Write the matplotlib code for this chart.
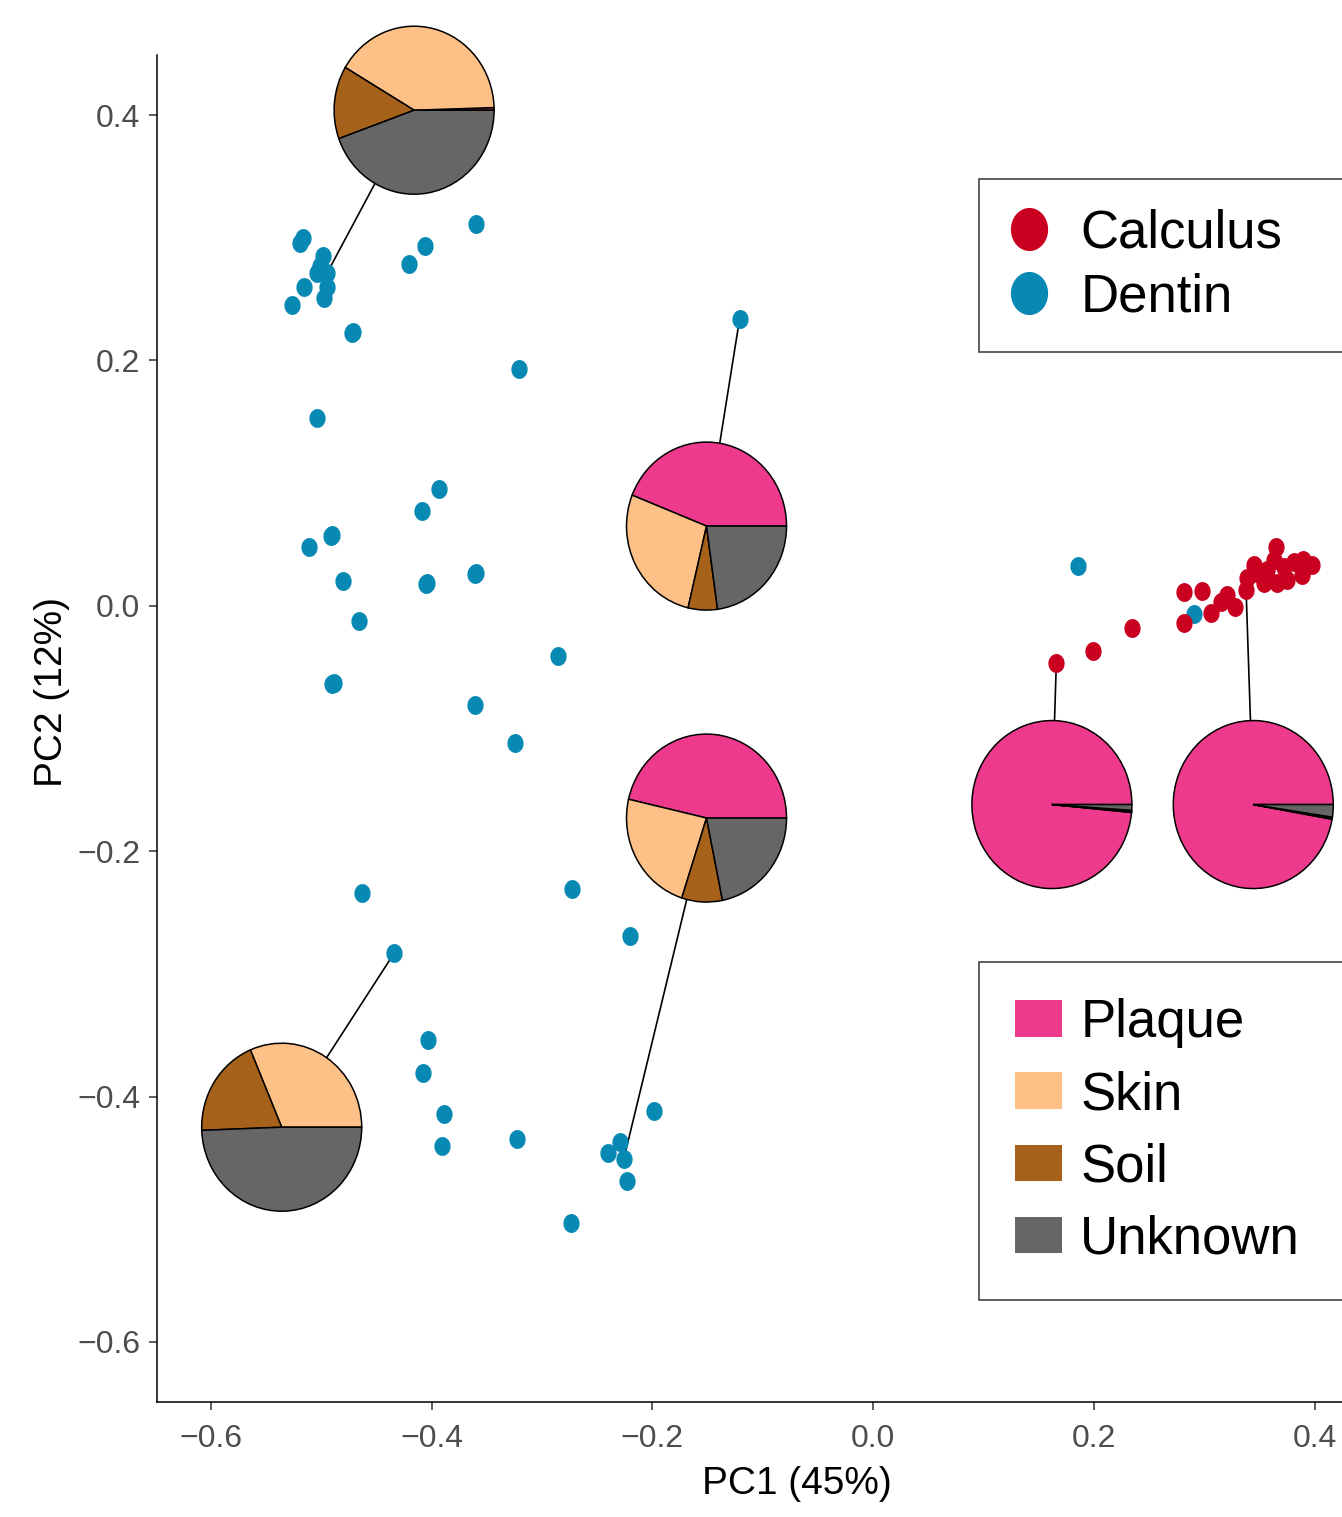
import numpy as np
import matplotlib
matplotlib.use("Agg")
import matplotlib.pyplot as plt
from matplotlib.path import Path
from matplotlib.lines import Line2D
from matplotlib.patches import Patch

plt.rcParams['font.family'] = ['Liberation Sans', 'DejaVu Sans']

# sample coordinates (PC1, PC2)
dentin_x = [-0.519, -0.517, -0.499, -0.501, -0.504, -0.495, -0.516, -0.495, -0.527, -0.498,
            -0.472, -0.471, -0.421, -0.406, -0.360, -0.321, -0.121,
            -0.504, -0.393, -0.409, -0.491, -0.490, -0.511, -0.480, -0.405, -0.404, -0.361, -0.360,
            -0.466, -0.286, -0.490, -0.489, -0.361, -0.325,
            -0.463, -0.434, -0.273, -0.220, -0.403, -0.408, -0.389, -0.391, -0.323, -0.199,
            -0.229, -0.240, -0.226, -0.223, -0.274,
            0.186, 0.291]
dentin_y = [0.296, 0.300, 0.285, 0.277, 0.271, 0.271, 0.260, 0.260, 0.245, 0.251,
            0.222, 0.223, 0.279, 0.293, 0.311, 0.193, 0.234,
            0.153, 0.095, 0.077, 0.057, 0.058, 0.048, 0.020, 0.018, 0.019, 0.026, 0.027,
            -0.012, -0.041, -0.064, -0.063, -0.081, -0.112,
            -0.234, -0.283, -0.231, -0.269, -0.354, -0.381, -0.414, -0.440, -0.435, -0.412,
            -0.437, -0.446, -0.451, -0.469, -0.503,
            0.0326, -0.0065]

calculus_x = [0.166, 0.199, 0.235, 0.282, 0.298, 0.282, 0.306, 0.315, 0.321, 0.328,
              0.338, 0.339, 0.345, 0.365, 0.357, 0.366, 0.354, 0.375, 0.381, 0.390,
              0.398, 0.389, 0.372, 0.363, 0.348]
calculus_y = [-0.047, -0.037, -0.018, 0.011, 0.012, -0.014, -0.006, 0.0035, 0.009, -0.001,
              0.0125, 0.0226, 0.0334, 0.048, 0.029, 0.0185, 0.0185, 0.021, 0.036, 0.0375,
              0.0334, 0.025, 0.032, 0.0375, 0.0266]

# source proportion pies: placement and linked sample
pie_x = [-0.416, -0.151, -0.151, -0.536, 0.162, 0.3445]
pie_y = [0.404, 0.065, -0.173, -0.425, -0.162, -0.162]
link_x = [-0.495, -0.121, -0.226, -0.434, 0.166, 0.338]
link_y = [0.271, 0.234, -0.451, -0.283, -0.047, 0.0125]
sources = ['Plaque', 'Skin', 'Soil', 'Unknown']
plaque = [0.005, 0.44, 0.464, 0.0, 0.985, 0.972]
skin = [0.41, 0.273, 0.236, 0.314, 0.002, 0.002]
soil = [0.14, 0.059, 0.082, 0.192, 0.002, 0.002]
unknown = [0.445, 0.228, 0.218, 0.494, 0.011, 0.024]

src_colors = ['#EE3A8C', '#FDC086', '#A6611A', '#666666']
col_calc = '#CA0020'
col_dent = '#0789B4'

W, H = 1342, 1517
fig = plt.figure(figsize=(W / 100, H / 100), dpi=100)
ax = fig.add_axes([157 / W, 1 - 1402 / H, (1437 - 157) / W, (1402 - 55) / H])
ax.set_xlim(-0.649, 0.511)
ax.set_ylim(-0.649, 0.449)

# slightly tall ellipse marker
t = np.linspace(0, 2 * np.pi, 60)
ell = np.column_stack([0.86 * np.cos(t), np.sin(t)])
ell_marker = Path(ell)

for i in range(len(pie_x)):
    ax.plot([link_x[i], pie_x[i]], [link_y[i], pie_y[i]], color='black', lw=1.2, zorder=1)

ax.scatter(dentin_x, dentin_y, s=185, marker=ell_marker, color=col_dent, lw=0, zorder=2)
ax.scatter(calculus_x, calculus_y, s=185, marker=ell_marker, color=col_calc, lw=0, zorder=2)

ax.spines['top'].set_visible(False)
ax.spines['right'].set_visible(False)
for s in ['left', 'bottom']:
    ax.spines[s].set_linewidth(1.1)
ax.set_xticks([-0.6, -0.4, -0.2, 0.0, 0.2, 0.4])
ax.set_yticks([-0.6, -0.4, -0.2, 0.0, 0.2, 0.4])
ax.set_xticklabels(['\u22120.6', '\u22120.4', '\u22120.2', '0.0', '0.2', '0.4'])
ax.set_yticklabels(['\u22120.6', '\u22120.4', '\u22120.2', '0.0', '0.2', '0.4'])
ax.tick_params(length=6, width=1.1, color='#333333', labelsize=23, labelcolor='#4D4D4D', pad=6)
ax.tick_params(axis='x', pad=9.5)
ax.set_xlabel('PC1 (45%)', fontsize=28)
ax.set_ylabel('PC2 (12%)', fontsize=28)
ax.xaxis.set_label_coords(0.5, -0.0475)
ax.yaxis.set_label_coords(-0.068, 0.527)

# pies drawn as small axes centred on data positions
fig.canvas.draw()
rx, ry, m = 80, 84, 1.03
for i in range(len(pie_x)):
    cx, cy = ax.transData.transform((pie_x[i], pie_y[i]))
    ia = fig.add_axes([(cx - rx * m) / W, (cy - ry * m) / H, 2 * rx * m / W, 2 * ry * m / H])
    fr = [plaque[i], skin[i], soil[i], unknown[i]]
    ia.pie(fr, colors=src_colors, startangle=0, radius=1,
           wedgeprops=dict(edgecolor='black', linewidth=1.1))
    ia.set_aspect('auto')
    ia.set_xlim(-m, m)
    ia.set_ylim(-m, m)
    ia.axis('off')

# legends
h1 = [Line2D([], [], ls='none', marker=ell_marker, markersize=30, color=c)
      for c in [col_calc, col_dent]]
leg1 = fig.legend(h1, ['Calculus', 'Dentin'], loc='upper left',
                  bbox_to_anchor=(979 / W, 1 - 179 / H, 0.3, 0), mode='expand',
                  fontsize=38, frameon=True, fancybox=False, edgecolor='black',
                  borderaxespad=0, borderpad=0.55, labelspacing=0.28,
                  handlelength=0.79, handletextpad=0.58)
leg1.get_frame().set_linewidth(1.1)

h2 = [Patch(facecolor=c, edgecolor='none') for c in src_colors]
leg2 = fig.legend(h2, sources, loc='upper left',
                  bbox_to_anchor=(979 / W, 1 - 962 / H, 0.3, 0), mode='expand',
                  fontsize=38, frameon=True, fancybox=False, edgecolor='black',
                  borderaxespad=0, borderpad=0.68, labelspacing=0.42,
                  handlelength=0.9, handleheight=0.68, handletextpad=0.34)
leg2.get_frame().set_linewidth(1.1)

fig.savefig('out.png', dpi=100)
